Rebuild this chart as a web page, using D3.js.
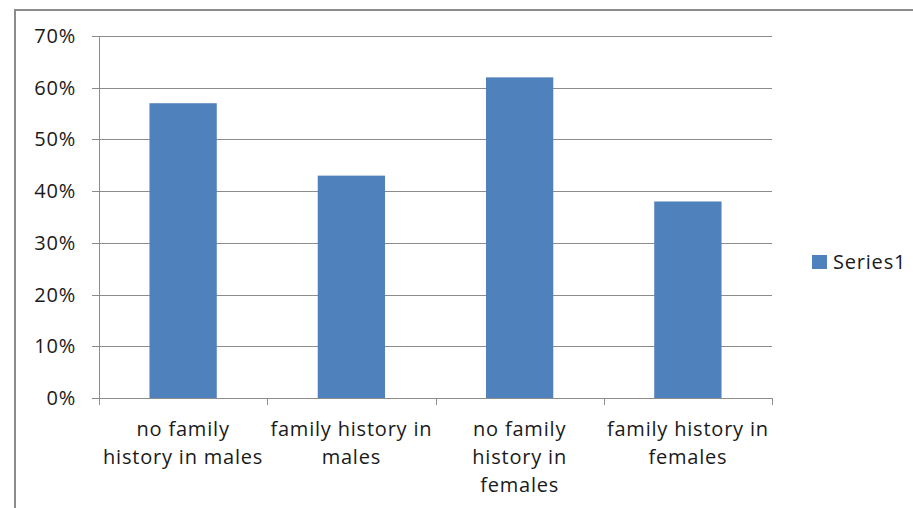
<!DOCTYPE html>
<html>
<head>
<meta charset="utf-8">
<script src="https://cdn.jsdelivr.net/npm/d3@7"></script>
<style>
  body { margin: 0; background: #fff; }
  svg { display: block; }
</style>
</head>
<body>
<svg id="chart" width="913" height="508"></svg>
<script>
// data
const categories = ["no family history in males", "family history in males", "no family history in females", "family history in females"]
const categoryLines = [["no family", "history in males"], ["family history in", "males"], ["no family", "history in", "females"], ["family history in", "females"]]
const series1 = [0.57, 0.43, 0.62, 0.38]
const yTicks = [0, 0.1, 0.2, 0.3, 0.4, 0.5, 0.6, 0.7]
const seriesName = "Series1"

function DrawChart() {
    let svg = d3.select("#chart")
    let left = 99, right = 772, top = 36, bottom = 398
    let font = "'Open Sans', sans-serif"

    // outer border
    svg.append("rect")
        .attr("x", 15).attr("y", 10)
        .attr("width", 1000).attr("height", 600)
        .style("fill", "#fff")
        .style("stroke", "#8c8c8c")
        .style("stroke-width", 2)

    let x = d3.scaleBand().domain(categories).range([left, right]).paddingInner(0.6).paddingOuter(0.3)
    let xOuter = d3.scaleBand().domain(categories).range([left, right])
    let y = d3.scaleLinear().domain([0, 0.7]).range([bottom, top])

    // gridlines
    svg.append("g")
        .selectAll("line")
        .data(yTicks)
        .enter()
        .append("line")
        .attr("x1", left - 7).attr("x2", right)
        .attr("y1", d => Math.round(y(d)) + 0.5)
        .attr("y2", d => Math.round(y(d)) + 0.5)
        .style("stroke", "#8c8c8c")
        .style("stroke-width", 1)

    // y axis line
    svg.append("line")
        .attr("x1", left + 0.5).attr("x2", left + 0.5)
        .attr("y1", top).attr("y2", bottom)
        .style("stroke", "#8c8c8c")

    // category ticks
    let tickXs = categories.map(c => xOuter(c)).concat([right])
    svg.append("g")
        .selectAll("line")
        .data(tickXs)
        .enter()
        .append("line")
        .attr("x1", d => Math.round(d) + 0.5).attr("x2", d => Math.round(d) + 0.5)
        .attr("y1", bottom).attr("y2", bottom + 7)
        .style("stroke", "#8c8c8c")

    // bars
    svg.append("g")
        .selectAll("rect")
        .data(series1)
        .enter()
        .append("rect")
        .attr("x", (d, i) => x(categories[i]))
        .attr("y", d => y(d))
        .attr("width", x.bandwidth())
        .attr("height", d => bottom - y(d))
        .style("fill", "#4f81bd")

    // y labels
    svg.append("g")
        .selectAll("text")
        .data(yTicks)
        .enter()
        .append("text")
        .text(d => d3.format(".0%")(d))
        .attr("x", 76)
        .attr("y", d => y(d))
        .attr("dy", "0.35em")
        .attr("text-anchor", "end")
        .style("fill", "#1a1a1a")
        .style("font-size", "20px")
        .style("letter-spacing", "0.8px")
        .style("font-family", font)

    // x labels
    let xl = svg.append("g")
        .selectAll("text")
        .data(categories)
        .enter()
        .append("text")
        .attr("text-anchor", "middle")
        .style("fill", "#1a1a1a")
        .style("font-size", "20px")
        .style("letter-spacing", "0.8px")
        .style("font-family", font)
    xl.each(function (d, i) {
        d3.select(this).selectAll("tspan")
            .data(categoryLines[i])
            .enter()
            .append("tspan")
            .attr("x", xOuter(d) + xOuter.bandwidth() / 2)
            .attr("y", (t, j) => 436 + j * 28)
            .text(t => t)
    })

    // legend
    svg.append("rect")
        .attr("x", 812).attr("y", 255)
        .attr("width", 15).attr("height", 14)
        .style("fill", "#4f81bd")
    svg.append("text")
        .text(seriesName)
        .attr("x", 833).attr("y", 262)
        .attr("dy", "0.35em")
        .style("fill", "#1a1a1a")
        .style("font-size", "20px")
        .style("letter-spacing", "0.8px")
        .style("font-family", font)
}
DrawChart()
</script>
</body>
</html>
